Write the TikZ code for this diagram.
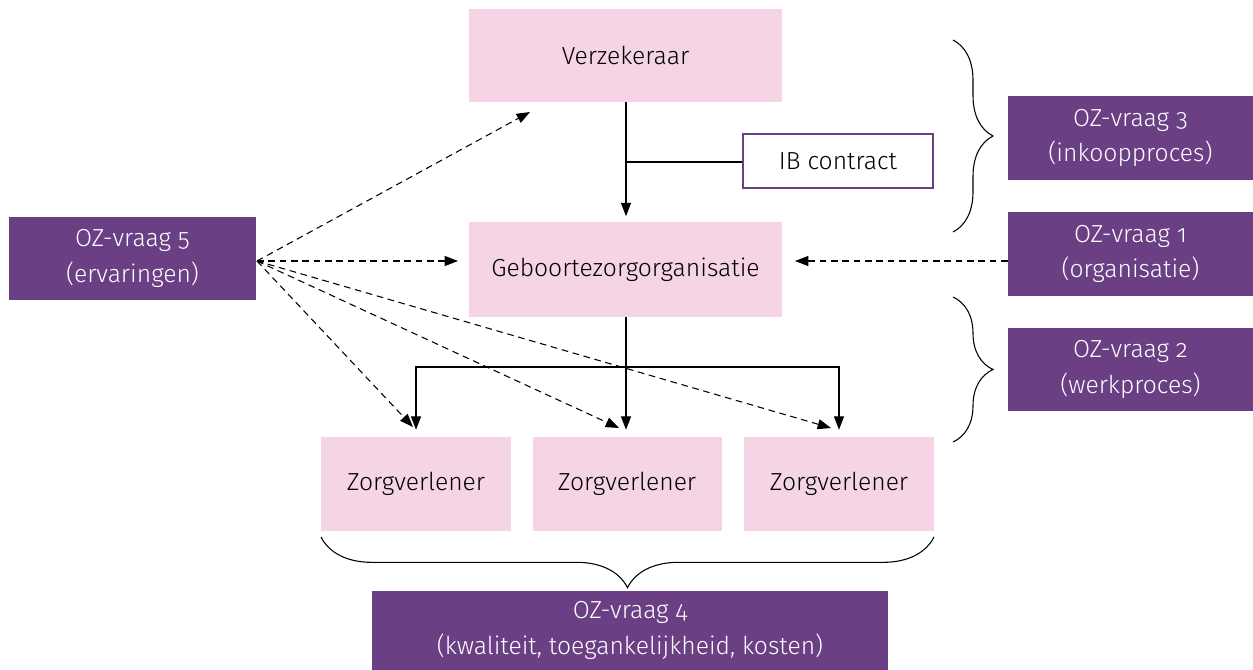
\documentclass[tikz,border=0pt]{standalone}
\usepackage{fontspec}
\setmainfont{Fira Sans Light}[Numbers=OldStyle]
\usetikzlibrary{arrows.meta,decorations.pathreplacing}
\definecolor{pinkbox}{HTML}{F5D4E6}
\definecolor{purplebox}{HTML}{6A3F84}
\begin{document}
\begin{tikzpicture}[x=0.75pt,y=-0.75pt,
  pinknode/.style={fill=pinkbox,draw=none,inner sep=0pt,font=\fontsize{18.5}{22}\selectfont},
  purplenode/.style={fill=purplebox,draw=none,inner sep=0pt,text=white,align=center,font=\fontsize{18.5}{26.5}\selectfont},
  solidarrow/.style={-{Triangle[length=10pt,width=7.5pt]},line width=0.8pt},
  dasharrow/.style={-{Triangle[length=10pt,width=7.5pt]},line width=0.8pt,dash pattern=on 5pt off 3.5pt},
  bracestyle/.style={decorate,decoration={brace,amplitude=20pt},line width=0.8pt}]
\useasboundingbox (0,0) rectangle (1253,670);
% pink boxes
\node[pinknode,minimum width=313*0.75pt,minimum height=93*0.75pt] (ver) at (625.5,55.5) {Verzekeraar};
\node[pinknode,minimum width=313*0.75pt,minimum height=95*0.75pt] (geb) at (625.5,269.5) {Geboortezorgorganisatie};
\node[pinknode,minimum width=190*0.75pt,minimum height=94*0.75pt] (z1) at (416,484) {Zorgverlener};
\node[pinknode,minimum width=189*0.75pt,minimum height=94*0.75pt] (z2) at (627,484) {Zorgverlener};
\node[pinknode,minimum width=190*0.75pt,minimum height=94*0.75pt] (z3) at (839,484) {Zorgverlener};
\node[draw=purplebox,line width=0.8pt,fill=white,inner sep=0pt,minimum width=190*0.75pt,minimum height=54*0.75pt,font=\fontsize{18.5}{22}\selectfont] (ib) at (838,161) {IB contract};
% purple boxes
\node[purplenode,minimum width=247*0.75pt,minimum height=83*0.75pt] (oz5) at (132.5,258.5) {OZ-vraag 5\\(ervaringen)};
\node[purplenode,minimum width=245*0.75pt,minimum height=84*0.75pt] (oz3) at (1130.5,138) {OZ-vraag 3\\(inkoopproces)};
\node[purplenode,minimum width=245*0.75pt,minimum height=84*0.75pt] (oz1) at (1130.5,254) {OZ-vraag 1\\(organisatie)};
\node[purplenode,minimum width=245*0.75pt,minimum height=83*0.75pt] (oz2) at (1130.5,369.5) {OZ-vraag 2\\(werkproces)};
\node[purplenode,minimum width=516*0.75pt,minimum height=80*0.75pt] (oz4) at (630,630.5) {OZ-vraag 4\\(kwaliteit, toegankelijkheid, kosten)};
% coordinates
\coordinate (j1) at (626,162);
\coordinate (j2) at (626,367);
\coordinate (l2) at (416,367);
\coordinate (r2) at (839,367);
\coordinate (src) at (257,261);
% solid connectors
\draw[solidarrow] (ver.south -| j1) -- ([yshift=5.5*0.75pt]geb.north -| j1);
\draw[line width=0.8pt] (j1) -- (j1 -| ib.west);
\draw[line width=0.8pt] (geb.south -| j2) -- (j2);
\draw[solidarrow] (j2) -- ([yshift=7*0.75pt]z2.north -| j2);
\draw[solidarrow] (j2) -- (l2) -- ([yshift=7*0.75pt]z1.north -| l2);
\draw[solidarrow] (j2) -- (r2) -- ([yshift=7*0.75pt]z3.north -| r2);
% dashed connectors
\coordinate (t1) at (530,112);
\coordinate (t2) at (458,261);
\coordinate (t3) at (413,427);
\coordinate (t4) at (619,428);
\coordinate (t5) at (831,428);
\coordinate (t6) at (795,261);
\draw[dasharrow] (src) -- (t1);
\draw[dasharrow] (src) -- (t2);
\draw[dasharrow] (src) -- (t3);
\draw[dasharrow] (src) -- (t4);
\draw[dasharrow] (src) -- (t5);
\draw[dasharrow] (t6 -| oz1.west) -- (t6);
% braces
\coordinate (b1a) at (953,40);
\coordinate (b1b) at (953,232);
\coordinate (b2a) at (953,297);
\coordinate (b2b) at (953,442);
\coordinate (b3a) at (321,537);
\coordinate (b3b) at (934,537);
\draw[bracestyle,decoration={amplitude=30pt}] (b1a) -- (b1b);
\draw[bracestyle,decoration={amplitude=30pt}] (b2a) -- (b2b);
\draw[bracestyle,decoration={amplitude=38pt,mirror}] (b3a) -- (b3b);
\end{tikzpicture}
\end{document}
